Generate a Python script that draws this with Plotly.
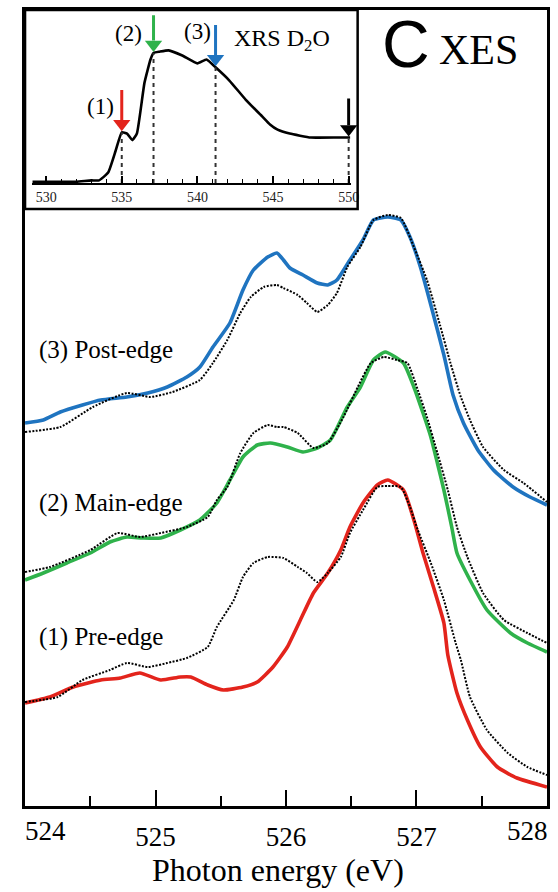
import plotly.graph_objects as go

W, H = 558, 892          # target picture size (layout coordinates below are in these pixels)
FIG_W = 568              # page is captured ~10px wider than the figure area; compensate
def PX(p):
    return p / W
def PY(p):
    return 1 - p / H

SERIF = "Liberation Serif"
SANS = "Liberation Sans"
BLUE = "#1f74c0"
GREEN = "#2fb24b"
RED = "#e3241c"

# ---------------- main XES spectra (photon energy eV, intensity arb. units incl. offset)
blue_E = [524.00, 524.14, 524.27, 524.44, 524.58, 524.78, 524.94, 525.09, 525.24, 525.34,
          525.44, 525.57, 525.67, 525.75, 525.86, 525.93, 525.98, 526.03, 526.13, 526.24,
          526.32, 526.39, 526.49, 526.59, 526.67, 526.78, 526.88, 526.95, 527.03, 527.11,
          527.21, 527.28, 527.36, 527.47, 527.59, 527.74, 527.87, 528.00]
blue_I = [3.83, 3.86, 3.94, 4.01, 4.06, 4.09, 4.13, 4.19, 4.29, 4.39,
          4.59, 4.83, 5.16, 5.36, 5.49, 5.53, 5.46, 5.38, 5.31, 5.23,
          5.21, 5.26, 5.46, 5.66, 5.86, 5.89, 5.86, 5.69, 5.39, 5.01,
          4.51, 4.11, 3.83, 3.56, 3.36, 3.19, 3.09, 3.01]

ref3_E = [524.00, 524.27, 524.52, 524.78, 524.96, 525.13, 525.34, 525.44, 525.55, 525.65,
          525.73, 525.83, 525.93, 525.98, 526.09, 526.16, 526.24, 526.32, 526.39, 526.47,
          526.57, 526.67, 526.78, 526.88, 526.98, 527.08, 527.18, 527.26, 527.34, 527.41,
          527.51, 527.67, 527.82, 528.00]
ref3_I = [3.74, 3.79, 3.99, 4.13, 4.09, 4.14, 4.26, 4.43, 4.66, 4.93,
          5.09, 5.19, 5.21, 5.18, 5.11, 5.03, 4.94, 5.01, 5.13, 5.39,
          5.59, 5.86, 5.91, 5.88, 5.59, 5.26, 4.81, 4.43, 4.09, 3.86,
          3.59, 3.36, 3.23, 3.04]

green_E = [524.00, 524.14, 524.32, 524.50, 524.65, 524.78, 524.90, 525.04, 525.19, 525.34,
           525.47, 525.57, 525.67, 525.78, 525.88, 526.01, 526.13, 526.24, 526.34, 526.47,
           526.57, 526.67, 526.76, 526.90, 526.98, 527.05, 527.11, 527.16, 527.21, 527.27,
           527.31, 527.41, 527.54, 527.72, 527.85, 528.00]
green_I = [2.26, 2.33, 2.43, 2.53, 2.64, 2.69, 2.68, 2.68, 2.76, 2.86,
           3.03, 3.26, 3.49, 3.61, 3.63, 3.59, 3.54, 3.58, 3.66, 3.99,
           4.19, 4.46, 4.54, 4.43, 4.19, 3.93, 3.69, 3.43, 3.16, 2.79,
           2.53, 2.26, 1.96, 1.73, 1.63, 1.54]

ref2_E = [524.00, 524.19, 524.50, 524.71, 524.88, 525.04, 525.24, 525.40, 525.47, 525.55,
          525.65, 525.75, 525.86, 525.93, 525.98, 526.09, 526.21, 526.32, 526.44, 526.55,
          526.65, 526.75, 526.85, 526.93, 527.01, 527.08, 527.16, 527.24, 527.31, 527.39,
          527.51, 527.67, 527.85, 528.00]
ref2_I = [2.34, 2.39, 2.56, 2.73, 2.69, 2.73, 2.79, 2.89, 3.06, 3.19,
          3.53, 3.73, 3.81, 3.79, 3.79, 3.73, 3.58, 3.63, 3.89, 4.19,
          4.43, 4.49, 4.46, 4.43, 4.16, 3.89, 3.53, 3.16, 2.79, 2.49,
          2.13, 1.86, 1.73, 1.63]

red_E = [524.00, 524.19, 524.37, 524.58, 524.73, 524.88, 525.04, 525.19, 525.27, 525.40,
         525.52, 525.67, 525.78, 525.90, 526.01, 526.11, 526.21, 526.32, 526.42, 526.49,
         526.59, 526.70, 526.78, 526.90, 526.98, 527.05, 527.13, 527.21, 527.24, 527.31,
         527.39, 527.49, 527.62, 527.77, 528.00]
red_I = [1.03, 1.09, 1.19, 1.26, 1.28, 1.33, 1.26, 1.29, 1.29, 1.21,
         1.16, 1.19, 1.24, 1.39, 1.59, 1.86, 2.13, 2.33, 2.56, 2.79,
         3.03, 3.21, 3.26, 3.16, 2.86, 2.53, 2.19, 1.83, 1.51, 1.13,
         0.86, 0.59, 0.39, 0.28, 0.19]

ref1_E = [524.00, 524.25, 524.44, 524.65, 524.78, 524.94, 525.09, 525.24, 525.40, 525.47,
          525.60, 525.67, 525.75, 525.86, 525.98, 526.09, 526.16, 526.24, 526.32, 526.42,
          526.49, 526.59, 526.70, 526.78, 526.88, 526.95, 527.01, 527.11, 527.21, 527.30,
          527.34, 527.41, 527.54, 527.70, 527.85, 528.00]
ref1_I = [1.04, 1.09, 1.26, 1.36, 1.43, 1.39, 1.43, 1.48, 1.59, 1.79,
          2.06, 2.29, 2.43, 2.49, 2.48, 2.39, 2.33, 2.24, 2.33, 2.49,
          2.73, 2.96, 3.19, 3.20, 3.19, 2.99, 2.76, 2.43, 2.06, 1.63,
          1.46, 1.09, 0.76, 0.53, 0.39, 0.31]

curve_labels = ["(3) Post-edge", "(2) Main-edge", "(1) Pre-edge"]
main_ticks = [525, 526, 527]
edge_ticks = [524, 528]
main_minor = [524.5, 525.5, 526.5, 527.5]

# ---------------- inset: XRS of D2O
xrs_E = [529.1, 530.0, 531.0, 532.0, 533.0, 533.5, 534.1, 534.6, 535.0, 535.35,
         535.7, 536.0, 536.5, 536.9, 537.1, 537.5, 538.1, 539.0, 540.0, 540.6,
         541.2, 542.1, 543.2, 544.3, 544.8, 545.3, 546.1, 547.5, 549.3, 550.1]
xrs_I = [0.01, 0.01, 0.01, 0.01, 0.02, 0.02, 0.08, 0.25, 0.39, 0.38,
         0.33, 0.38, 0.77, 0.95, 1.00, 1.01, 1.02, 0.98, 0.92, 0.95,
         0.89, 0.79, 0.64, 0.51, 0.45, 0.41, 0.38, 0.35, 0.35, 0.35]
exc_E = [535.0, 537.1, 541.2, 550.0]          # excitation energies
exc_I = [0.39, 1.00, 0.89, 0.35]              # XRS intensity at those energies
arrow_tail = [0.715, 1.29, 1.215, 0.65]
arrow_colors = [RED, GREEN, BLUE, "black"]
inset_ticks = [530, 535, 540, 545, 550]
inset_minor = [531, 532, 533, 534, 536, 537, 538, 539, 541, 542, 543, 544, 546, 547, 548, 549]

fig = go.Figure()

def add_pair(Ec, Ic, color, Er, Ir):
    fig.add_trace(go.Scatter(x=Ec, y=Ic, mode="lines", xaxis="x", yaxis="y",
                             line=dict(color=color, width=3.6, shape="spline", smoothing=0.5),
                             hoverinfo="skip", showlegend=False))
    fig.add_trace(go.Scatter(x=Er, y=Ir, mode="lines", xaxis="x", yaxis="y",
                             line=dict(color="black", width=2, dash="2px,1.5px", shape="spline",
                                       smoothing=0.5),
                             hoverinfo="skip", showlegend=False))

add_pair(blue_E, blue_I, BLUE, ref3_E, ref3_I)
add_pair(green_E, green_I, GREEN, ref2_E, ref2_I)
add_pair(red_E, red_I, RED, ref1_E, ref1_I)

# inset curve
fig.add_trace(go.Scatter(x=xrs_E, y=xrs_I, mode="lines", xaxis="x2", yaxis="y2",
                         line=dict(color="black", width=2.6, shape="spline", smoothing=0.4),
                         hoverinfo="skip", showlegend=False))
for e, i in zip(exc_E, exc_I):
    fig.add_trace(go.Scatter(x=[e, e], y=[0, i], mode="lines", xaxis="x2", yaxis="y2",
                             line=dict(color="#333333", width=2, dash="4px,4px"),
                             hoverinfo="skip", showlegend=False))

# excitation arrows: shaft + triangular head, drawn on the inset axes
HEAD = 0.065   # head offset above the tip, in inset intensity units
for e, i, t, c in zip(exc_E, exc_I, arrow_tail, arrow_colors):
    fig.add_trace(go.Scatter(x=[e, e], y=[t, i + HEAD + 0.03], mode="lines", xaxis="x2", yaxis="y2",
                             line=dict(color=c, width=3), cliponaxis=False,
                             hoverinfo="skip", showlegend=False))
    fig.add_trace(go.Scatter(x=[e], y=[i + HEAD], mode="markers", xaxis="x2", yaxis="y2",
                             marker=dict(symbol="triangle-down", size=15, color=c, line=dict(width=0)),
                             cliponaxis=False, hoverinfo="skip", showlegend=False))

annotations = []

def lab(text, x, y, size, family=SERIF, xanchor="left", color="black"):
    annotations.append(dict(text=text, x=PX(x), y=PY(y), xref="paper", yref="paper",
                            xanchor=xanchor, yanchor="middle", showarrow=False,
                            font=dict(family=family, size=size, color=color)))

lab("(1)", 85, 107, 23)
lab("(2)", 113, 33, 23)
lab("(3)", 182, 32, 23)
lab("XRS D<sub>2</sub>O", 232, 40, 24)
lab("C", 379, 44, 66, family=SANS)
lab("XES", 436, 50, 42)
for t, yy in zip(curve_labels, [350, 503, 637]):
    lab(t, 37, yy, 25)
lab("Photon energy (eV)", 278, 870, 32, xanchor="center")
# edge tick labels (shifted inward as in the original)
for v, anc, sh in zip(edge_ticks, ["left", "right"], [-2, 3]):
    annotations.append(dict(text=str(v), x=v, y=PY(831), xref="x", yref="paper",
                            xanchor=anc, yanchor="middle", showarrow=False, xshift=sh,
                            font=dict(family=SERIF, size=27, color="black")))

shapes = [dict(type="rect", xref="paper", yref="paper", x0=PX(25), x1=PX(357), y0=PY(209), y1=PY(10),
               line=dict(color="black", width=2.5), layer="above")]

fig.update_layout(
    width=FIG_W, height=H, margin=dict(l=0, r=0, t=0, b=0),
    paper_bgcolor="white", plot_bgcolor="white", showlegend=False,
    font=dict(family=SERIF, color="black"),
    xaxis=dict(domain=[PX(25), PX(546)], range=[524, 528], anchor="y",
               tickmode="array", tickvals=main_ticks,
               ticks="inside", ticklen=16, tickwidth=2, tickcolor="black",
               minor=dict(tickmode="array", tickvals=main_minor, ticks="inside", ticklen=10,
                          tickwidth=2, tickcolor="black"),
               showline=True, linewidth=2.5, linecolor="black", mirror=True,
               showgrid=False, zeroline=False, ticklabelstandoff=5,
               tickfont=dict(family=SERIF, size=27, color="black")),
    yaxis=dict(domain=[PY(806), PY(10)], range=[0, 7.96], anchor="x",
               showticklabels=False, ticks="", showline=True, linewidth=2.5, linecolor="black",
               mirror=True, showgrid=False, zeroline=False),
    xaxis2=dict(domain=[PX(32), PX(350)], range=[529.07, 550.13], anchor="y2",
                tickmode="array", tickvals=inset_ticks, ticks="inside", ticklen=7, tickwidth=1.5,
                tickcolor="black",
                minor=dict(tickmode="array", tickvals=inset_minor, ticks="inside", ticklen=4,
                           tickwidth=1.2, tickcolor="black"),
                showline=True, linewidth=1.5, linecolor="black", showgrid=False, zeroline=False,
                tickfont=dict(family=SERIF, size=14, color="#222222")),
    yaxis2=dict(domain=[PY(183), PY(12)], range=[0, 1.315], anchor="x2", visible=False),
    annotations=annotations, shapes=shapes,
)

fig.write_html("out.html")
